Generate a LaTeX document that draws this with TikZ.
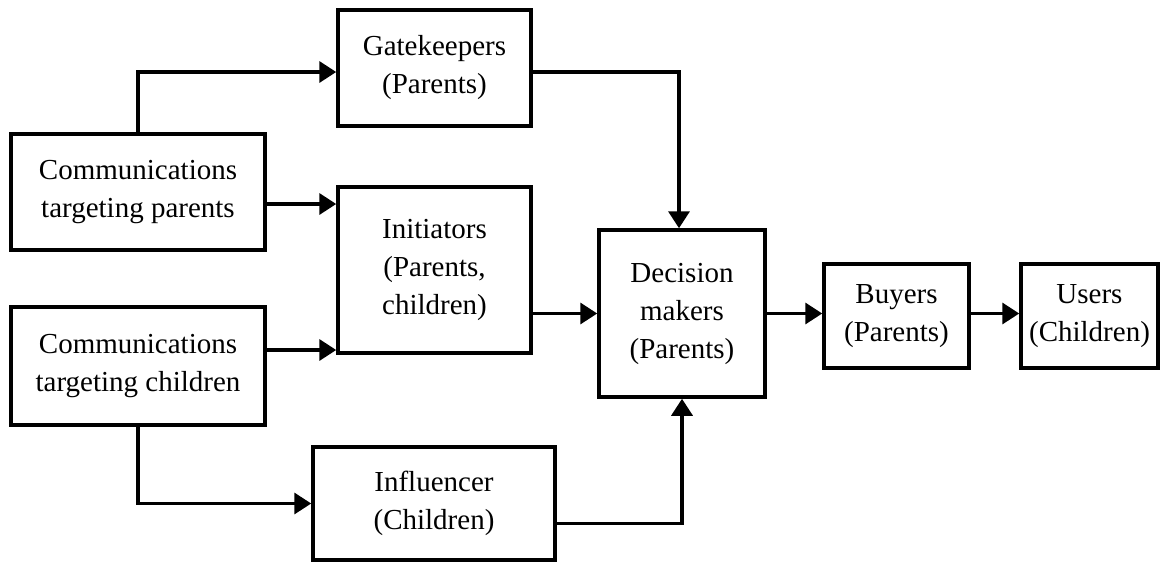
\documentclass[tikz,border=0pt]{standalone}
\usepackage{fontspec}
\setmainfont{Liberation Serif}
\usetikzlibrary{arrows.meta,calc}
\begin{document}
\begin{tikzpicture}[x=1pt,y=-1pt,
  box/.style={draw,line width=3.5pt,align=center,inner sep=0pt,
    font=\fontsize{29}{38}\selectfont},
  arr/.style={line width=3.5pt,-{Triangle[length=17pt,width=21pt]}}]
\useasboundingbox (0,0) rectangle (1161,563);

% boxes
\node[box,minimum width=193pt,minimum height=116pt] (gate) at (434.5,68) {Gatekeepers\\(Parents)};
\node[box,minimum width=254pt,minimum height=116pt] (comp) at (138,192) {Communications\\targeting parents};
\node[box,minimum width=193pt,minimum height=166pt] (init) at (434.5,270) {Initiators\\(Parents,\\children)};
\node[box,minimum width=254pt,minimum height=118pt] (comc) at (138,366) {Communications\\targeting children};
\node[box,minimum width=166pt,minimum height=167pt] (dec) at (682,313.5) {Decision\\makers\\(Parents)};
\node[box,minimum width=145pt,minimum height=104pt] (buy) at (896.5,316) {Buyers\\(Parents)};
\node[box,minimum width=137pt,minimum height=104pt] (user) at (1089.5,316) {Users\\(Children)};
\node[box,minimum width=242pt,minimum height=113pt] (infl) at (434,503.5) {Influencer\\(Children)};

% connectors
\draw[arr] (comp.north) |- ($(gate.west)+(0,4)$);
\draw[arr] ($(comp.east)+(0,12)$) coordinate (a) -- (a -| init.west);
\draw[arr] ($(comc.east)+(0,-16)$) coordinate (b) -- (b -| init.west);
\draw[arr] (comc.south) |- (infl.west);
\draw[arr] ($(gate.east)+(0,4)$) -| ($(dec.north)+(-3,0)$);
\draw[arr] (init.east |- dec.west) -- (dec.west);
\draw[arr] ($(infl.east)+(0,20)$) -| (dec.south);
\draw[arr] (dec.east) -- (dec.east -| buy.west);
\draw[arr] (buy.east |- dec.east) -- (dec.east -| user.west);
\end{tikzpicture}
\end{document}
